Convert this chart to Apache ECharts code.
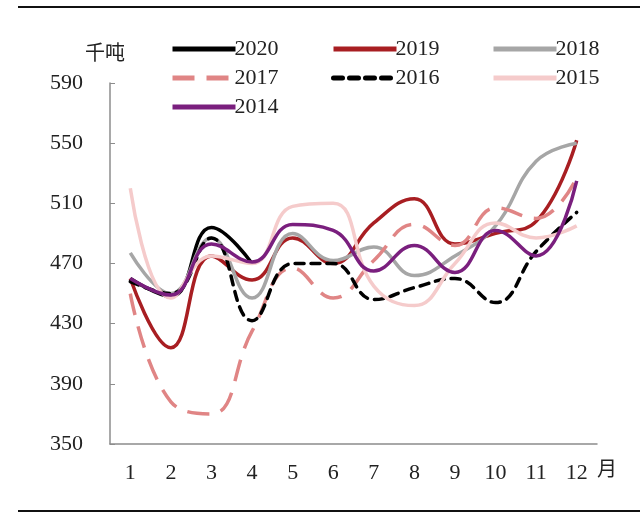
<!DOCTYPE html>
<html><head><meta charset="utf-8">
<script src="https://cdn.jsdelivr.net/npm/echarts@6/dist/echarts.min.js"></script>
<style>html,body{margin:0;padding:0;background:#fff}#c{width:640px;height:516px}</style>
</head><body><div id="c"></div>
<script>
const months = ['1','2','3','4','5','6','7','8','9','10','11','12'];
const yTicks = [350, 590, 40];
const s2020 = [460, 448, 494, 470];
const s2019 = [460, 414, 475, 459, 487, 470, 497, 513, 483, 490, 498, 552];
const s2018 = [477, 450, 487, 447, 490, 472, 481, 462, 475, 495, 538, 550];
const s2017 = [450, 378, 370, 425, 467, 447, 472, 496, 482, 507, 500, 527];
const s2016 = [458, 450, 487, 432, 470, 470, 446, 454, 460, 444, 478, 504];
const s2015 = [520, 447, 475, 470, 508, 510, 455, 442, 470, 497, 487, 495];
const s2014 = [460, 449, 483, 471, 496, 492, 465, 482, 464, 492, 475, 525];

const serif = '"Liberation Serif", "DejaVu Serif", serif';
const cjk = '"Noto Sans CJK SC", sans-serif';

function mk(name, data, color, width, type, cap) {
  return {
    name, type: 'line', data, smooth: 0.45, symbol: 'none',
    lineStyle: { color, width, type: type || 'solid', cap: cap || 'butt' },
    itemStyle: { color }
  };
}
const series = [
  mk('2020', s2020, '#000000', 3.5),
  mk('2019', s2019, '#A81E22', 3.5),
  mk('2018', s2018, '#A6A6A6', 3.5),
  mk('2017', s2017, '#E08585', 3.5, [22, 12]),
  mk('2016', s2016, '#000000', 3.5, [9, 7], 'round'),
  mk('2015', s2015, '#F5CBCB', 3.5),
  mk('2014', s2014, '#7A1F7E', 3.5)
];

const legendBase = {
  orient: 'vertical', itemWidth: 63, itemHeight: 14, itemGap: 7,
  itemStyle: { opacity: 0 },
  lineStyle: { width: 5 },
  textStyle: { fontFamily: serif, fontSize: 22, color: '#222', padding: [0,0,0,-6] },
  padding: 0
};
const chart = echarts.init(document.getElementById('c'), null, { renderer: 'canvas' });
chart.setOption({
  animation: false,
  backgroundColor: '#fff',
  legend: [
    Object.assign({}, legendBase, { left: 170, top: 38, data: ['2020', '2017', '2014'] }),
    Object.assign({}, legendBase, { left: 331, top: 38, data: ['2019', '2016'] }),
    Object.assign({}, legendBase, { left: 491, top: 38, data: ['2018', '2015'] })
  ],
  grid: { left: 110, right: 43, top: 83, bottom: 72 },
  xAxis: {
    type: 'category', data: months, boundaryGap: true,
    axisLine: { lineStyle: { color: '#8c8c8c', width: 1.5 } },
    axisTick: { inside: true, length: 5, alignWithLabel: false, lineStyle: { color: '#8c8c8c' } },
    axisLabel: { fontFamily: serif, fontSize: 22, color: '#222', margin: 18 }
  },
  yAxis: {
    type: 'value', min: yTicks[0], max: yTicks[1], interval: yTicks[2],
    splitLine: { show: false },
    axisLine: { show: true, lineStyle: { color: '#8c8c8c', width: 1.5 } },
    axisTick: { show: true, inside: true, length: 5, lineStyle: { color: '#8c8c8c' } },
    axisLabel: { fontFamily: serif, fontSize: 22, color: '#222', margin: 27 }
  },
  graphic: [
    { type: 'line', shape: { x1: 18, y1: 7, x2: 640, y2: 7 }, style: { stroke: '#111', lineWidth: 2 } },
    { type: 'line', shape: { x1: 18, y1: 511, x2: 640, y2: 511 }, style: { stroke: '#111', lineWidth: 2 } },
    { type: 'text', left: 85, top: 42, style: { text: '千吨', font: '20px ' + cjk, fill: '#222' } },
    { type: 'text', left: 597, top: 458, style: { text: '月', font: '20px ' + cjk, fill: '#222' } }
  ],
  series
});
</script></body></html>
